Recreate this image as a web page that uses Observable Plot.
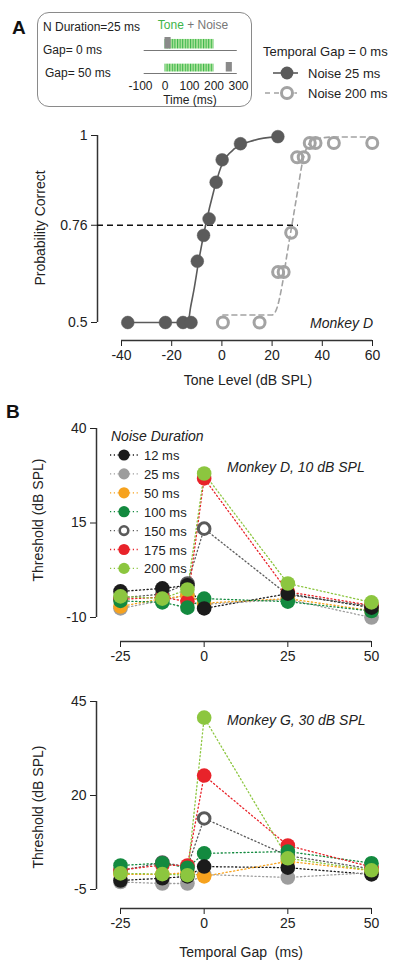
<!DOCTYPE html>
<html><head><meta charset="utf-8">
<script src="https://cdn.jsdelivr.net/npm/d3@7"></script>
<script src="https://cdn.jsdelivr.net/npm/@observablehq/plot@0.6"></script>
<style>
body{margin:0;background:#fff;font-family:"Liberation Sans",Arial,Helvetica,sans-serif;}
#root{position:relative;width:400px;height:971px;overflow:hidden;background:#fff;}
.abs{position:absolute;white-space:nowrap;color:#222;line-height:1;}
svg{overflow:visible;}
</style></head><body><div id="root"></div>
<script>
// ---------- Panel A data ----------
const toneTicks = [-40, -20, 0, 20, 40, 60];
const pcTicks = [0.5, 0.76, 1];
const level25 = [-37.5, -22.5, -15.5, -12.3, -9.8, -7.3, -5.1, -2.3, 0.1, 7.4, 22.3];
const pc25 = [0.5, 0.5, 0.5, 0.5, 0.664, 0.733, 0.777, 0.875, 0.935, 0.978, 0.997];
const level200 = [0.4, 15, 22.4, 24.6, 27.6, 30, 32.6, 35, 37.3, 44.6, 59.9];
const pc200 = [0.5, 0.5, 0.635, 0.635, 0.74, 0.942, 0.942, 0.98, 0.98, 0.98, 0.98];
const fitLevel25 = [-37.5, -13.5, -12.5, -11.2, -9.2, -6.5, -3.2, -0.4, 4.9, 12.7, 22];
const fitPc25 = [0.5, 0.5, 0.54, 0.585, 0.666, 0.76, 0.853, 0.915, 0.964, 0.987, 0.997];
const fitLevel200 = [0.4, 20, 22, 24, 26, 28, 30, 32, 34, 37, 45, 60];
const fitPc200 = [0.52, 0.52, 0.54, 0.6, 0.685, 0.765, 0.845, 0.925, 0.97, 0.99, 0.996, 0.996];
const thresholdPc = 0.76;
const thresholdLineEnd = 30.5;

// ---------- Panel B data ----------
const gaps = [-25, -12.5, -5, 0, 25, 50];
const gapTicks = [-25, 0, 25, 50];
const durations = ["12 ms", "25 ms", "50 ms", "100 ms", "150 ms", "175 ms", "200 ms"];
const durationColors = ["#1b1b1b", "#9d9d9d", "#f6a21e", "#138a3f", "#5a5a5a", "#e8232a", "#8cc63f"];
const drawOrder = ["25 ms", "50 ms", "175 ms", "100 ms", "12 ms", "200 ms"];
const ticksD = [-10, 15, 40];
const ticksG = [-5, 20, 45];
// Monkey D, 10 dB SPL
const d12 = [-3.1, -2.3, -1.5, -7.6, -3.7, -7.4];
const d25 = [-7.6, -5.5, -4.0, -6.5, -5.2, -10.0];
const d50 = [-7.1, -5.0, -4.2, -6.2, -5.0, -8.2];
const d100 = [-5.6, -6.0, -7.4, -5.0, -5.8, -8.3];
const d150 = [-4.8, -3.8, -1.0, 13.5, -4.0, -7.0];
const d175 = [-5.2, -4.6, -5.8, 26.8, -3.2, -6.8];
const d200 = [-4.4, -5.0, -2.6, 28.1, -1.0, -6.0];
// Monkey G, 30 dB SPL
const g12 = [-2.6, -2.0, -1.5, 1.1, 0.8, -1.0];
const g25 = [-3.0, -3.4, -3.4, -1.0, -1.8, -0.5];
const g50 = [-1.0, -1.0, -0.5, -1.5, 2.5, 0.0];
const g100 = [1.4, 2.0, 0.8, 4.6, 5.1, 2.0];
const g150 = [0.0, 2.2, 1.0, 13.9, 4.0, 0.5];
const g175 = [0.2, 1.5, 1.4, 25.3, 6.7, 1.0];
const g200 = [-0.7, -0.9, -1.2, 40.7, 3.3, 0.1];

// ---------- Inset stimulus schematic data ----------
const timeTicks = [-100, 0, 100, 200, 300];
const gap0Noise = [0, 25];
const gap0Tone = [0, 200];
const gap50Tone = [0, 200];
const gap50Noise = [250, 275];
const timelineExtent = [-85, 295];

// ---------- helpers ----------
const root = document.getElementById("root");
const FONT = '"Liberation Sans", Arial, Helvetica, sans-serif';
function place(node, left, top) {
  node.style.position = "absolute";
  node.style.left = left + "px";
  node.style.top = top + "px";
  root.appendChild(node);
  return node;
}
function label(text, x, y, opts = {}) {
  const d = document.createElement("div");
  d.className = "abs";
  d.textContent = text;
  d.style.fontSize = (opts.size || 14) + "px";
  if (opts.italic) d.style.fontStyle = "italic";
  if (opts.bold) d.style.fontWeight = "bold";
  if (opts.color) d.style.color = opts.color;
  const ax = opts.anchor === "end" ? "-100%" : opts.anchor === "middle" ? "-50%" : "0";
  d.style.left = x + "px";
  d.style.top = y + "px";
  d.style.transform = `translate(${ax},-50%)`;
  if (opts.rotate) { d.style.transformOrigin = "center"; d.style.transform = `translate(-50%,-50%) rotate(${opts.rotate}deg)`; }
  if (opts.html) d.innerHTML = opts.html;
  root.appendChild(d);
  return d;
}
const baseStyle = {fontFamily: FONT, fontSize: "14px", color: "#222", background: "transparent", overflow: "visible"};

// ---------- Panel A ----------
const ptsA25 = level25.map((x, i) => ({x, y: pc25[i]}));
const ptsA200 = level200.map((x, i) => ({x, y: pc200[i]}));
const fitA25 = fitLevel25.map((x, i) => ({x, y: fitPc25[i]}));
const fitA200 = fitLevel200.map((x, i) => ({x, y: fitPc200[i]}));

const plotA = Plot.plot({
  width: 400, height: 290,
  marginLeft: 97, marginRight: 28, marginTop: 25, marginBottom: 60,
  style: baseStyle,
  x: {domain: [-40, 60], insetLeft: 24, ticks: toneTicks, tickSize: 6, tickPadding: 4, tickFormat: d => String(d), label: null},
  y: {domain: [0.5, 1], insetBottom: 18, ticks: pcTicks, tickSize: 6, tickPadding: 4, tickFormat: d => String(d), label: null},
  marks: [
    Plot.ruleX([-40], {y1: 0.5, y2: 1, dx: -24, stroke: "#333", strokeWidth: 1.5}),
    Plot.ruleY([0.5], {x1: -40, x2: 60, dy: 18, stroke: "#333", strokeWidth: 1.5}),
    Plot.ruleY([thresholdPc], {x1: -40, x2: thresholdLineEnd, insetLeft: -24, stroke: "#111", strokeWidth: 1.6, strokeDasharray: "6,4"}),
    Plot.line(fitA25, {x: "x", y: "y", curve: "monotone-x", stroke: "#5b5b5b", strokeWidth: 1.6}),
    Plot.line(fitA200, {x: "x", y: "y", curve: "monotone-x", stroke: "#a3a3a3", strokeWidth: 1.6, strokeDasharray: "5,4"}),
    Plot.dot(ptsA25, {x: "x", y: "y", r: 6.4, fill: "#5b5b5b", stroke: "#5b5b5b", strokeWidth: 0.5}),
    Plot.dot(ptsA200, {x: "x", y: "y", r: 5.5, fill: "white", fillOpacity: 0, stroke: "#a3a3a3", strokeWidth: 3})
  ]
});
place(plotA, 0, 110);

// ---------- Panel B ----------
function rows(seriesList) {
  const out = [];
  seriesList.forEach((vals, k) => vals.forEach((v, i) => out.push({series: durations[k], gap: gaps[i], thr: v})));
  return out;
}
function panelB(data, ticks, yDomain, opts) {
  const ordered = drawOrder.flatMap(s => data.filter(d => d.series === s));
  return Plot.plot({
    width: 400, height: opts.height,
    marginLeft: 96, marginRight: 29, marginTop: opts.marginTop, marginBottom: opts.marginBottom,
    style: baseStyle,
    x: {domain: [-25, 50], insetLeft: 24, ticks: gapTicks, tickSize: 6, tickPadding: 4, tickFormat: d => String(d), label: null},
    y: {domain: yDomain, insetBottom: opts.insetBottom, ticks, tickSize: 6, tickPadding: 4, tickFormat: d => String(d), label: null},
    color: {domain: durations, range: durationColors},
    marks: [
      Plot.ruleX([-25], {y1: yDomain[0], y2: yDomain[1], dx: -24, stroke: "#333", strokeWidth: 1.5}),
      Plot.ruleY([yDomain[0]], {x1: -25, x2: 50, dy: opts.insetBottom, stroke: "#333", strokeWidth: 1.5}),
      Plot.line(data, {x: "gap", y: "thr", z: "series", stroke: "series", strokeWidth: 1.3, strokeDasharray: "1.2,2.6"}),
      Plot.dot(data.filter(d => d.series === "150 ms"), {x: "gap", y: "thr", r: 5.8, fill: "white", stroke: "#5a5a5a", strokeWidth: 3}),
      Plot.dot(ordered, {x: "gap", y: "thr", r: 7.3, fill: "series", stroke: "none"})
    ]
  });
}
const dataD = rows([d12, d25, d50, d100, d150, d175, d200]);
const dataG = rows([g12, g25, g50, g100, g150, g175, g200]);
const plotB1 = panelB(dataD, ticksD, [-10, 40], {height: 280, marginTop: 28, marginBottom: 39, insetBottom: 24});
place(plotB1, 0, 400);
const plotB2 = panelB(dataG, ticksG, [-5, 45], {height: 286, marginTop: 16, marginBottom: 63, insetBottom: 19});
place(plotB2, 0, 685);

// ---------- Inset box ----------
const box = document.createElement("div");
box.style.border = "1px solid #8a8a8a";
box.style.borderRadius = "12px";
box.style.width = "215px";
box.style.height = "95px";
box.style.boxSizing = "border-box";
place(box, 37, 12);

function stimRow(segs, showAxis, height, marginBottom, topOffset) {
  const noise = segs.filter(s => s.kind === "noise");
  const tone = segs.filter(s => s.kind === "tone");
  const p = Plot.plot({
    width: 130, height, marginLeft: 15, marginRight: 17, marginTop: 4, marginBottom,
    style: {...baseStyle, fontSize: "12px"},
    x: {domain: [-100, 300], ticks: showAxis ? timeTicks : [], tickSize: 0, tickPadding: 8, tickFormat: d => String(d), label: null, axis: showAxis ? "bottom" : null},
    y: {domain: [0, 1], axis: null},
    marks: [
      Plot.ruleY([0], {x1: timelineExtent[0], x2: timelineExtent[1], stroke: "#777", strokeWidth: 1}),
      Plot.rect(tone, {x1: "start", x2: "end", y1: 0, y2: 0.85, fill: "#00ff01", insetBottom: 1.5}),
      Plot.rect(noise, {x1: "start", x2: "end", y1: 0, y2: 1, fill: "#8a8a8a", insetBottom: 1.5})
    ]
  });
  const sel = d3.select(p);
  const defs = sel.insert("defs", ":first-child");
  const pat = defs.append("pattern").attr("id", "stripes" + topOffset).attr("patternUnits", "userSpaceOnUse").attr("width", 2.6).attr("height", 20);
  pat.append("rect").attr("width", 2.6).attr("height", 20).attr("fill", "#b4e6a0");
  pat.append("rect").attr("width", 1.1).attr("height", 20).attr("fill", "#39b54a");
  sel.selectAll("rect,g").filter(function() { return (this.getAttribute("fill") || "").toLowerCase() === "#00ff01"; })
    .attr("fill", `url(#stripes${topOffset})`);
  return p;
}
const segGap0 = [{kind: "tone", start: gap0Tone[0], end: gap0Tone[1]}, {kind: "noise", start: gap0Noise[0], end: gap0Noise[1]}];
const segGap50 = [{kind: "tone", start: gap50Tone[0], end: gap50Tone[1]}, {kind: "noise", start: gap50Noise[0], end: gap50Noise[1]}];
place(stimRow(segGap0, false, 21, 4, 1), 125, 33);
place(stimRow(segGap50, true, 50, 35, 2), 125, 58);

label("N Duration=25 ms", 43, 27, {size: 12});
label("Gap= 0 ms", 43, 50, {size: 12});
label("Gap= 50 ms", 45, 73, {size: 12});
label("", 193, 25, {size: 12, anchor: "middle", html: '<span style="color:#3db54a">Tone</span><span style="color:#777"> + Noise</span>'});
label("Time (ms)", 190, 100, {size: 12, anchor: "middle"});

// ---------- Legend A ----------
label("Temporal Gap = 0 ms", 263, 51, {size: 13});
const legA = d3.create("svg").attr("width", 60).attr("height", 40);
legA.append("line").attr("x1", 13).attr("x2", 38).attr("y1", 10).attr("y2", 10).attr("stroke", "#5b5b5b").attr("stroke-width", 1.6);
legA.append("circle").attr("cx", 27).attr("cy", 10).attr("r", 6.4).attr("fill", "#5b5b5b");
legA.append("line").attr("x1", 5).attr("x2", 41).attr("y1", 30).attr("y2", 30).attr("stroke", "#a3a3a3").attr("stroke-width", 1.6).attr("stroke-dasharray", "5,4");
legA.append("circle").attr("cx", 27).attr("cy", 30).attr("r", 7.5).attr("fill", "white");
legA.append("circle").attr("cx", 27).attr("cy", 30).attr("r", 5.5).attr("fill", "none").attr("stroke", "#a3a3a3").attr("stroke-width", 3);
place(legA.node(), 260, 63);
label("Noise 25 ms", 308, 73, {size: 13});
label("Noise 200 ms", 308, 93, {size: 13});

// ---------- Legend B ----------
label("Noise Duration", 111, 436, {size: 14, italic: true});
const legB = d3.create("svg").attr("width", 40).attr("height", 135);
durations.forEach((s, i) => {
  const y = 8 + i * 18.9;
  const c = durationColors[i];
  legB.append("line").attr("x1", 2).attr("x2", 30).attr("y1", y).attr("y2", y).attr("stroke", c).attr("stroke-width", 1.3).attr("stroke-dasharray", "1.2,2.6");
  if (s === "150 ms") {
    legB.append("circle").attr("cx", 16).attr("cy", y).attr("r", 6.5).attr("fill", "white");
    legB.append("circle").attr("cx", 16).attr("cy", y).attr("r", 4.3).attr("fill", "white").attr("stroke", c).attr("stroke-width", 2.6);
  } else {
    legB.append("circle").attr("cx", 16).attr("cy", y).attr("r", 5.6).attr("fill", c);
  }
  label(s, 144, 455 + i * 18.9, {size: 13});
});
place(legB.node(), 108, 447);

// ---------- Other text ----------
label("A", 12, 27, {size: 19, bold: true, color: "#111"});
label("B", 6, 411, {size: 19, bold: true, color: "#111"});
label("Probability Correct", 40, 228, {size: 14, rotate: -90});
label("Tone Level (dB SPL)", 248, 380, {size: 14, anchor: "middle"});
label("Monkey D", 373, 323, {size: 14, italic: true, anchor: "end"});
label("Threshold (dB SPL)", 38, 520, {size: 14, rotate: -90});
label("Monkey D, 10 dB SPL", 227, 467, {size: 14, italic: true});
label("Threshold (dB SPL)", 38, 807, {size: 14, rotate: -90});
label("Monkey G, 30 dB SPL", 227, 720, {size: 14, italic: true});
label("", 241, 952, {size: 14, anchor: "middle", html: "Temporal Gap&nbsp;&nbsp;(ms)"});
</script></body></html>
